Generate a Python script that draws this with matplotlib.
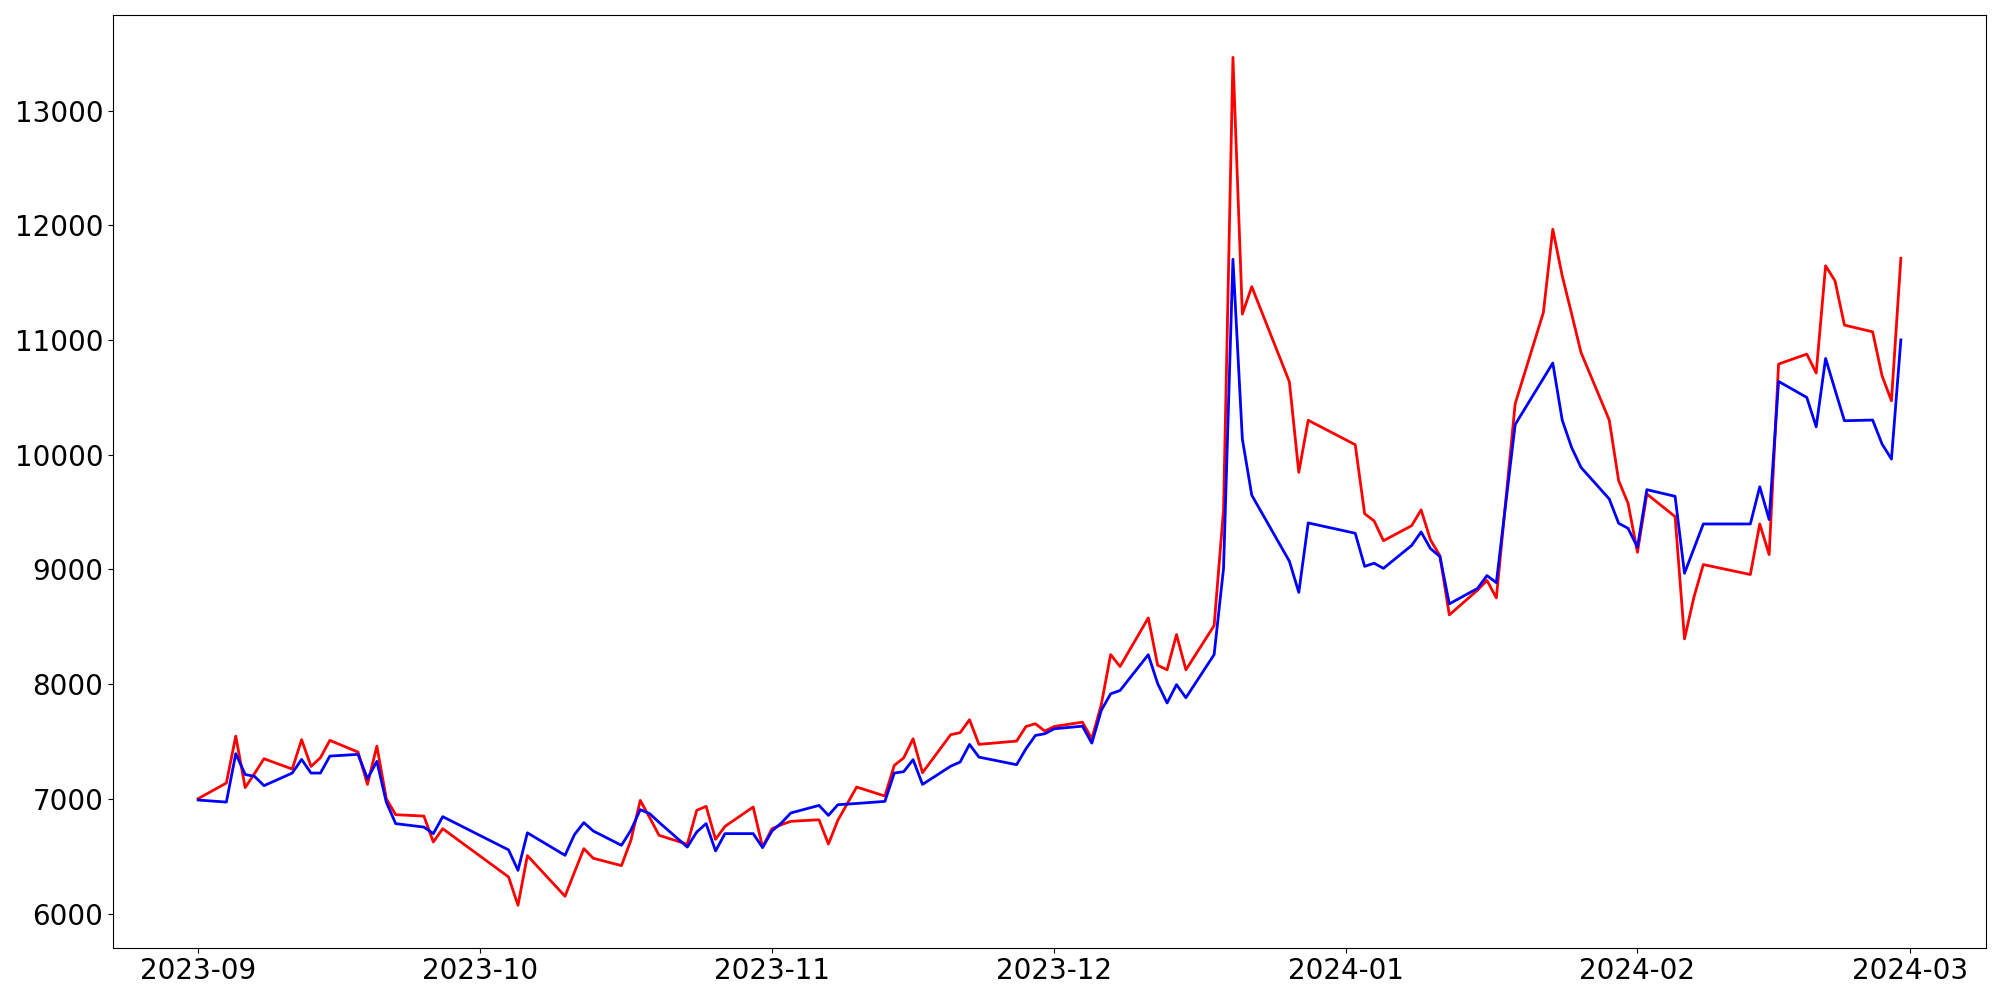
import pandas as pd
import matplotlib
matplotlib.use("Agg")
import matplotlib.pyplot as plt
import matplotlib.dates as mdates

dates = [
    "2023-09-01", "2023-09-04", "2023-09-05", "2023-09-06", "2023-09-07", "2023-09-08",
    "2023-09-11", "2023-09-12", "2023-09-13", "2023-09-14", "2023-09-15",
    "2023-09-18", "2023-09-19", "2023-09-20", "2023-09-21", "2023-09-22",
    "2023-09-25", "2023-09-26", "2023-09-27",
    "2023-10-04", "2023-10-05", "2023-10-06",
    "2023-10-10", "2023-10-11", "2023-10-12", "2023-10-13",
    "2023-10-16", "2023-10-17", "2023-10-18", "2023-10-19", "2023-10-20",
    "2023-10-23", "2023-10-24", "2023-10-25", "2023-10-26", "2023-10-27",
    "2023-10-30", "2023-10-31", "2023-11-01", "2023-11-02", "2023-11-03",
    "2023-11-06", "2023-11-07", "2023-11-08", "2023-11-10",
    "2023-11-13", "2023-11-14", "2023-11-15", "2023-11-16", "2023-11-17",
    "2023-11-20", "2023-11-21", "2023-11-22", "2023-11-23",
    "2023-11-27", "2023-11-28", "2023-11-29", "2023-11-30", "2023-12-01",
    "2023-12-04", "2023-12-05", "2023-12-06", "2023-12-07", "2023-12-08",
    "2023-12-11", "2023-12-12", "2023-12-13", "2023-12-14", "2023-12-15",
    "2023-12-18", "2023-12-19", "2023-12-20", "2023-12-21", "2023-12-22",
    "2023-12-26", "2023-12-27", "2023-12-28",
    "2024-01-02", "2024-01-03", "2024-01-04", "2024-01-05",
    "2024-01-08", "2024-01-09", "2024-01-10", "2024-01-11", "2024-01-12",
    "2024-01-15", "2024-01-16", "2024-01-17", "2024-01-19",
    "2024-01-22", "2024-01-23", "2024-01-24", "2024-01-25", "2024-01-26",
    "2024-01-29", "2024-01-30", "2024-01-31", "2024-02-01", "2024-02-02",
    "2024-02-05", "2024-02-06", "2024-02-07", "2024-02-08",
    "2024-02-13", "2024-02-14", "2024-02-15", "2024-02-16",
    "2024-02-19", "2024-02-20", "2024-02-21", "2024-02-22", "2024-02-23",
    "2024-02-26", "2024-02-27", "2024-02-28", "2024-02-29",
]

red_values = [
    7002, 7138, 7547, 7098, 7222, 7350,
    7260, 7516, 7283, 7359, 7510,
    7408, 7126, 7460, 7002, 6862,
    6850, 6624, 6740,
    6319, 6072, 6505,
    6151, 6360, 6566, 6482,
    6418, 6638, 6987, 6836, 6682,
    6604, 6900, 6935, 6647, 6760,
    6929, 6580, 6740, 6775, 6804,
    6818, 6606, 6813, 7103,
    7025, 7292, 7357, 7524, 7228,
    7560, 7577, 7690, 7475,
    7504, 7631, 7655, 7591, 7631,
    7669, 7524, 7820, 8258, 8154,
    8578, 8165, 8125, 8433, 8125,
    8511, 9520, 13465, 11227, 11466,
    10636, 9847, 10301,
    10088, 9486, 9424, 9251,
    9382, 9520, 9258, 9120, 8604,
    8820, 8905, 8752, 10445,
    11241, 11967, 11561, 11230, 10892,
    10303, 9775, 9577, 9150, 9658,
    9461, 8395, 8758, 9043,
    8956, 9397, 9130, 10791,
    10878, 10713, 11648, 11517, 11131,
    11072, 10689, 10471, 11714,
]

blue_values = [
    6990, 6972, 7394, 7213, 7196, 7115,
    7225, 7344, 7225, 7225, 7373,
    7388, 7176, 7327, 6972, 6784,
    6754, 6697, 6845,
    6555, 6377, 6704,
    6508, 6688, 6793, 6720,
    6595, 6726, 6906, 6871, 6795,
    6580, 6711, 6784, 6546, 6697,
    6697, 6575, 6720, 6790, 6877,
    6943, 6856, 6949, 6960,
    6978, 7225, 7237, 7342, 7126,
    7285, 7321, 7475, 7364,
    7298, 7437, 7553, 7568, 7611,
    7634, 7486, 7771, 7916, 7945,
    8257, 8005, 7836, 7996, 7882,
    8258, 9010, 11705, 10138, 9648,
    9072, 8800, 9406,
    9316, 9027, 9055, 9010,
    9210, 9327, 9182, 9113, 8700,
    8835, 8947, 8885, 10264,
    10666, 10800, 10303, 10064, 9890,
    9615, 9403, 9359, 9194, 9696,
    9638, 8967, 9182, 9397,
    9397, 9721, 9435, 10640,
    10500, 10244, 10840, 10567, 10297,
    10303, 10094, 9963, 11002,
]

x = pd.to_datetime(dates)

fig = plt.figure(figsize=(20, 10), dpi=100)
ax = fig.add_axes([0.0565, 0.0523, 0.9365, 0.9327])
ax.plot(x, red_values, color="red", linewidth=2)
ax.plot(x, blue_values, color="blue", linewidth=2)

ax.xaxis.set_major_locator(mdates.MonthLocator())
ax.xaxis.set_major_formatter(mdates.DateFormatter("%Y-%m"))
ax.tick_params(axis="both", labelsize=20)

plt.savefig("out.png")
plt.close()
